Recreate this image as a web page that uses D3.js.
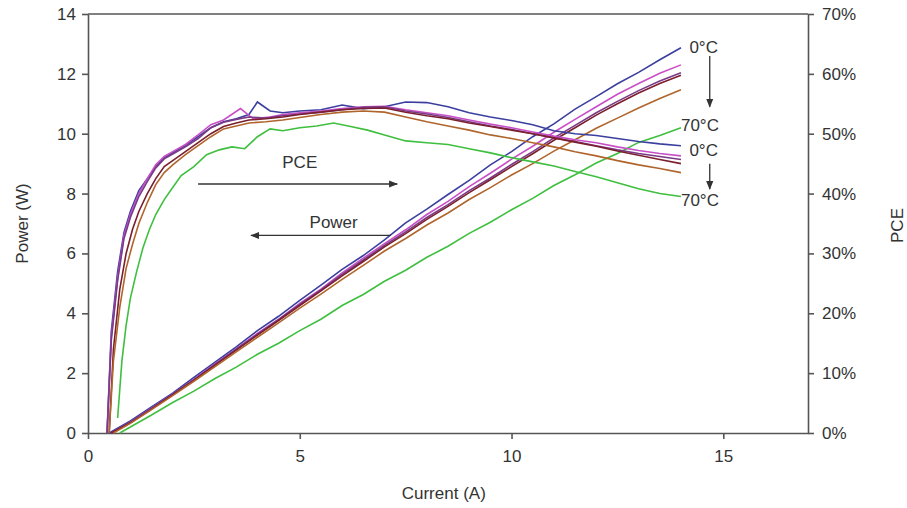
<!DOCTYPE html>
<html>
<head>
<meta charset="utf-8">
<script src="https://cdn.jsdelivr.net/npm/d3@7"></script>
<style>
  body { margin: 0; background: #fff; }
  svg text { font-family: "Liberation Sans", Arial, sans-serif; fill: #333; }
</style>
</head>
<body>
<svg id="chart" width="907" height="508"></svg>
<script>
// series colours, 0°C (blue) -> 70°C (green)
let colors = ['#3b3f9e', '#c84fc8', '#7a3a86', '#7a1f2e', '#b0652c', '#3fbf3f']

// power curves: [current A, power W]
let powerBlue = [[0.5,0],[1,0.4],[1.5,0.87],[2,1.33],[2.5,1.86],[3,2.37],[3.5,2.88],[4,3.42],[4.5,3.9],[5,4.43],[5.5,4.94],[6,5.47],[6.5,5.93],[7,6.45],[7.5,7.02],[8,7.48],[8.5,7.97],[9,8.44],[9.5,8.96],[10,9.4],[10.5,9.9],[11,10.33],[11.5,10.82],[12,11.24],[12.5,11.67],[13,12.05],[13.5,12.47],[14,12.87]]
let powerMagenta = [[0.55,0],[1,0.36],[1.5,0.83],[2,1.3],[2.5,1.79],[3,2.31],[3.5,2.81],[4,3.33],[4.5,3.8],[5,4.33],[5.5,4.81],[6,5.35],[6.5,5.84],[7,6.33],[7.5,6.79],[8,7.3],[8.5,7.74],[9,8.23],[9.5,8.68],[10,9.15],[10.5,9.58],[11,10.05],[11.5,10.48],[12,10.9],[12.5,11.32],[13,11.68],[13.5,12.02],[14,12.3]]
let powerPurple = [[0.55,0],[1,0.35],[1.5,0.82],[2,1.29],[2.5,1.78],[3,2.29],[3.5,2.8],[4,3.3],[4.5,3.79],[5,4.3],[5.5,4.78],[6,5.3],[6.5,5.78],[7,6.27],[7.5,6.72],[8,7.2],[8.5,7.63],[9,8.1],[9.5,8.52],[10,8.97],[10.5,9.4],[11,9.86],[11.5,10.28],[12,10.7],[12.5,11.08],[13,11.44],[13.5,11.76],[14,12.04]]
let powerDarkRed = [[0.55,0],[1,0.34],[1.5,0.8],[2,1.28],[2.5,1.76],[3,2.27],[3.5,2.77],[4,3.27],[4.5,3.76],[5,4.26],[5.5,4.75],[6,5.25],[6.5,5.73],[7,6.22],[7.5,6.66],[8,7.14],[8.5,7.57],[9,8.03],[9.5,8.46],[10,8.9],[10.5,9.33],[11,9.78],[11.5,10.2],[12,10.62],[12.5,11.0],[13,11.36],[13.5,11.68],[14,11.95]]
let powerBrown = [[0.6,0],[1,0.32],[1.5,0.78],[2,1.25],[2.5,1.73],[3,2.22],[3.5,2.71],[4,3.2],[4.5,3.68],[5,4.17],[5.5,4.64],[6,5.13],[6.5,5.6],[7,6.08],[7.5,6.5],[8,6.95],[8.5,7.35],[9,7.8],[9.5,8.2],[10,8.62],[10.5,9.0],[11,9.42],[11.5,9.8],[12,10.18],[12.5,10.52],[13,10.86],[13.5,11.18],[14,11.47]]
let powerGreen = [[0.75,0],[1,0.2],[1.5,0.6],[2,1.02],[2.5,1.4],[3,1.82],[3.5,2.2],[4,2.63],[4.5,3.0],[5,3.42],[5.5,3.8],[6,4.26],[6.5,4.63],[7,5.07],[7.5,5.44],[8,5.87],[8.5,6.24],[9,6.67],[9.5,7.04],[10,7.46],[10.5,7.84],[11,8.27],[11.5,8.63],[12,9.02],[12.5,9.34],[13,9.71],[13.5,9.94],[14,10.2]]

// PCE curves: [current A, PCE %]
let pceBlue = [[0.45,0],[0.55,17],[0.7,27],[0.85,33.5],[1,37],[1.2,40.5],[1.4,42.5],[1.6,44.5],[1.8,46],[2,46.8],[2.3,48],[2.6,49.5],[2.9,51],[3.2,52],[3.5,52.5],[3.8,53.2],[4,55.3],[4.3,53.8],[4.6,53.5],[5,53.8],[5.5,54],[6,54.8],[6.5,54.2],[7,54.5],[7.5,55.3],[8,55.2],[8.5,54.5],[9,53.5],[9.5,52.8],[10,52.2],[10.5,51.5],[11,50.5],[11.5,50],[12,49.7],[12.5,49.2],[13,48.7],[13.5,48.3],[14,48]]
let pceMagenta = [[0.45,0],[0.55,16],[0.7,26],[0.85,33],[1,36.5],[1.2,40],[1.4,42.5],[1.6,44.8],[1.8,46.2],[2,47],[2.3,48.2],[2.6,49.8],[2.9,51.5],[3.2,52.3],[3.6,54.2],[3.9,52.5],[4.3,52.8],[4.6,53.2],[5,53.5],[5.5,53.8],[6,54.2],[6.5,54.5],[7,54.6],[7.5,54],[8,53.5],[8.5,53],[9,52.3],[9.5,51.6],[10,51],[10.5,50.3],[11,49.6],[11.5,49],[12,48.5],[12.5,47.8],[13,47.2],[13.5,46.7],[14,46.3]]
let pcePurple = [[0.45,0],[0.55,15.5],[0.7,25.5],[0.85,32.5],[1,36],[1.2,39.5],[1.4,42],[1.6,44.3],[1.8,45.8],[2,46.6],[2.3,47.8],[2.6,49.2],[2.9,51],[3.2,51.9],[3.5,52.4],[3.8,52.8],[4.2,52.6],[4.6,53],[5,53.3],[5.5,53.6],[6,54],[6.5,54.4],[7,54.5],[7.5,53.8],[8,53.3],[8.5,52.7],[9,52],[9.5,51.3],[10,50.7],[10.5,50],[11,49.3],[11.5,48.7],[12,48],[12.5,47.3],[13,46.7],[13.5,46.2],[14,45.7]]
let pceDarkRed = [[0.5,0],[0.6,14],[0.75,24],[0.9,30],[1.05,34],[1.2,37],[1.4,40],[1.6,42.5],[1.8,44.5],[2,45.5],[2.3,47],[2.6,48.5],[2.9,50],[3.2,51.2],[3.5,51.8],[3.8,52.3],[4.2,52.5],[4.6,52.8],[5,53.2],[5.5,53.6],[6,54],[6.5,54.2],[7,54.3],[7.5,53.6],[8,53],[8.5,52.5],[9,51.8],[9.5,51.2],[10,50.6],[10.5,50],[11,49.3],[11.5,48.6],[12,47.9],[12.5,47.1],[13,46.4],[13.5,45.7],[14,45]]
let pceBrown = [[0.5,0],[0.6,12],[0.75,21],[0.9,27.5],[1.05,31.5],[1.2,35],[1.4,38.5],[1.6,41.5],[1.8,43.5],[2,44.8],[2.3,46.5],[2.6,48],[2.9,49.5],[3.2,50.8],[3.5,51.3],[3.8,51.8],[4.2,52],[4.6,52.3],[5,52.7],[5.5,53.2],[6,53.6],[6.5,53.8],[7,53.6],[7.5,52.8],[8,52],[8.5,51.3],[9,50.6],[9.5,49.8],[10,49.2],[10.5,48.5],[11,47.8],[11.5,47],[12,46.3],[12.5,45.5],[13,44.8],[13.5,44.2],[14,43.5]]
let pceGreen = [[0.7,2.5],[0.8,12],[0.9,18],[1,22.5],[1.15,27],[1.3,31],[1.45,34],[1.6,36.5],[1.8,39],[2,41],[2.2,43],[2.5,44.5],[2.8,46.5],[3.1,47.3],[3.4,47.8],[3.7,47.5],[4,49.5],[4.3,50.8],[4.6,50.5],[5,51],[5.4,51.3],[5.8,51.8],[6.2,51.2],[6.6,50.6],[7,49.8],[7.5,48.8],[8,48.5],[8.5,48.2],[9,47.5],[9.5,46.8],[10,46],[10.5,45.3],[11,44.6],[11.5,43.7],[12,42.8],[12.5,41.8],[13,40.8],[13.5,40],[14,39.5]]

let powerSeries = [powerBlue, powerMagenta, powerPurple, powerDarkRed, powerBrown, powerGreen]
let pceSeries = [pceBlue, pceMagenta, pcePurple, pceDarkRed, pceBrown, pceGreen]

let xTicks = [0, 5, 10, 15]
let powerTicks = [0, 2, 4, 6, 8, 10, 12, 14]
let pceTicks = [0, 10, 20, 30, 40, 50, 60, 70]

let margin = {left: 88, right: 99, top: 14, bottom: 75}
let width = 907 - margin.left - margin.right
let height = 508 - margin.top - margin.bottom

let svg = d3.select("#chart")
let g = svg.append('g').attr('transform', `translate(${margin.left},${margin.top})`)

let x = d3.scaleLinear().domain([0, 17]).range([0, width])
let yPower = d3.scaleLinear().domain([0, 14]).range([height, 0])
let yPce = d3.scaleLinear().domain([0, 70]).range([height, 0])

let styleAxis = (sel) =>{
    sel.selectAll('path').attr('stroke', '#555').attr('stroke-width', 1.6)
    sel.selectAll('line').attr('stroke', '#555').attr('stroke-width', 1.6)
    sel.selectAll('text').attr('font-size', 17).attr('fill', '#333')
          .attr('font-family', '"Liberation Sans", Arial, sans-serif')
}

// top border
g.append('line')
 .attr('x1', 0).attr('x2', width).attr('y1', 0).attr('y2', 0)
 .attr('stroke', '#555').attr('stroke-width', 1.6)

g.append('g')
 .attr('transform', `translate(0,${height})`)
 .call(d3.axisBottom(x).tickValues(xTicks).tickSize(6).tickSizeOuter(0).tickPadding(11))
 .call(styleAxis)

g.append('g')
 .call(d3.axisLeft(yPower).tickValues(powerTicks).tickSize(6).tickSizeOuter(0).tickPadding(6))
 .call(styleAxis)

g.append('g')
 .attr('transform', `translate(${width},0)`)
 .call(d3.axisRight(yPce).tickValues(pceTicks).tickSize(6).tickSizeOuter(0).tickPadding(8)
         .tickFormat((d) => d + '%'))
 .call(styleAxis)

let powerLine = d3.line().x((d) => x(d[0])).y((d) => yPower(d[1]))
let pceLine = d3.line().x((d) => x(d[0])).y((d) => yPce(d[1]))

powerSeries.forEach((s, i) =>{
    g.append('path').datum(s)
     .attr('d', powerLine)
     .attr('fill', 'none').attr('stroke', colors[i]).attr('stroke-width', 1.6)
})
pceSeries.forEach((s, i) =>{
    g.append('path').datum(s)
     .attr('d', pceLine)
     .attr('fill', 'none').attr('stroke', colors[i]).attr('stroke-width', 1.6)
})

// arrow heads
let defs = svg.append('defs')
defs.append('marker')
    .attr('id', 'arrow')
    .attr('viewBox', '0 0 10 10')
    .attr('refX', 9).attr('refY', 5)
    .attr('markerWidth', 9).attr('markerHeight', 9)
    .attr('markerUnits', 'userSpaceOnUse')
    .attr('orient', 'auto')
  .append('path')
    .attr('d', 'M0,1 L10,5 L0,9 Z')
    .attr('fill', '#333')

let arrow = (x1, y1, x2, y2) =>{
    g.append('line')
     .attr('x1', x1).attr('y1', y1).attr('x2', x2).attr('y2', y2)
     .attr('stroke', '#333').attr('stroke-width', 1.3)
     .attr('marker-end', 'url(#arrow)')
}
let label = (tx, ty, txt, anchor) =>{
    g.append('text')
     .attr('x', tx).attr('y', ty)
     .attr('text-anchor', anchor || 'middle')
     .attr('font-size', 17)
     .text(txt)
}

// PCE / Power annotations
label(x(5.0), yPce(44.3), 'PCE')
arrow(x(2.6), yPce(41.6), x(7.3), yPce(41.6))
label(x(5.8), yPower(6.85), 'Power')
arrow(x(7.15), yPower(6.6), x(3.85), yPower(6.6))

// temperature annotations
label(x(14.2), yPower(12.7), '0°C', 'start')
arrow(x(14.68), yPower(12.6), x(14.68), yPower(10.9))
label(x(14.0), yPower(10.1), '70°C', 'start')
label(x(14.2), yPower(9.25), '0°C', 'start')
arrow(x(14.68), yPower(9.0), x(14.68), yPower(8.15))
label(x(14.0), yPower(7.6), '70°C', 'start')

// axis titles
svg.append('text')
   .attr('x', margin.left + x(8.4)).attr('y', 499)
   .attr('text-anchor', 'middle').attr('font-size', 17)
   .text('Current (A)')
svg.append('text')
   .attr('transform', `translate(28,${margin.top + height / 2}) rotate(-90)`)
   .attr('text-anchor', 'middle').attr('font-size', 17)
   .text('Power (W)')
svg.append('text')
   .attr('transform', `translate(903,${margin.top + height / 2 + 2}) rotate(-90)`)
   .attr('text-anchor', 'middle').attr('font-size', 17)
   .text('PCE')
</script>
</body>
</html>
